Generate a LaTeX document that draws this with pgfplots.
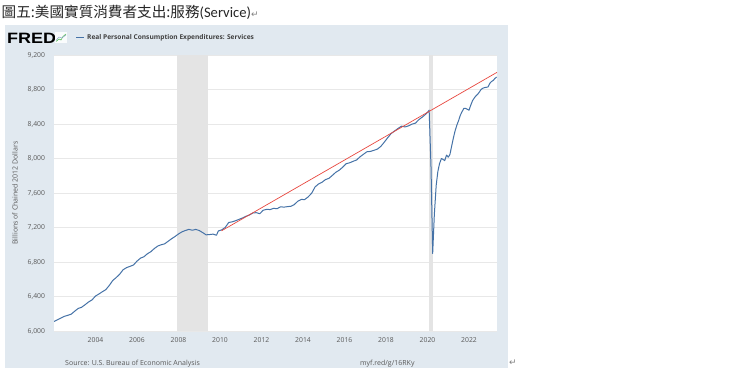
\documentclass[border=0pt]{standalone}
\usepackage{fontspec}
\setmainfont{Open Sans}
\newfontfamily\cjk{Noto Sans CJK TC}
\newfontfamily\carlito{Carlito}
\newfontfamily\dejavu{DejaVu Sans}
\newfontfamily\logofont{Liberation Sans}
\usepackage{pgfplots}
\usepackage{pgfplotstable}
\pgfplotsset{compat=1.18}
\definecolor{fredbg}{HTML}{E1E9F0}
\definecolor{fredblue}{HTML}{4572A7}
\definecolor{gridc}{HTML}{E8E8E8}
\definecolor{shadec}{HTML}{E4E4E4}
\definecolor{ticktext}{HTML}{595959}
\definecolor{redl}{HTML}{E8473F}
\definecolor{titletext}{HTML}{262626}

\pgfplotstableread{
year value
2002.00 6110
2002.17 6130
2002.33 6150
2002.50 6170
2002.67 6182
2002.83 6195
2003.00 6230
2003.17 6262
2003.33 6275
2003.50 6305
2003.67 6337
2003.83 6360
2004.00 6405
2004.17 6430
2004.33 6455
2004.50 6480
2004.67 6530
2004.83 6585
2005.00 6620
2005.17 6660
2005.33 6710
2005.50 6735
2005.67 6750
2005.83 6765
2006.00 6810
2006.17 6845
2006.33 6860
2006.50 6895
2006.67 6920
2006.83 6955
2007.00 6985
2007.17 7000
2007.33 7010
2007.50 7040
2007.67 7070
2007.83 7095
2008.00 7125
2008.17 7150
2008.33 7165
2008.50 7178
2008.67 7168
2008.83 7178
2009.00 7165
2009.17 7140
2009.33 7115
2009.50 7118
2009.67 7123
2009.83 7110
2009.92 7160
2010.08 7172
2010.25 7200
2010.42 7258
2010.58 7265
2010.75 7278
2010.92 7295
2011.08 7310
2011.25 7330
2011.42 7345
2011.58 7368
2011.75 7372
2011.92 7360
2012.08 7400
2012.25 7410
2012.42 7408
2012.58 7422
2012.75 7418
2012.92 7440
2013.08 7436
2013.25 7442
2013.42 7446
2013.58 7465
2013.75 7505
2013.92 7525
2014.08 7524
2014.25 7555
2014.42 7598
2014.58 7670
2014.75 7705
2014.92 7725
2015.08 7755
2015.25 7770
2015.42 7805
2015.58 7840
2015.75 7865
2015.92 7900
2016.08 7940
2016.25 7950
2016.42 7968
2016.58 7982
2016.75 8020
2016.92 8050
2017.08 8078
2017.25 8082
2017.42 8095
2017.58 8108
2017.75 8140
2017.92 8190
2018.08 8240
2018.25 8290
2018.42 8320
2018.58 8348
2018.75 8375
2018.92 8366
2019.08 8378
2019.25 8398
2019.42 8410
2019.58 8450
2019.75 8480
2019.92 8515
2020.00 8535
2020.08 8560
2020.17 7900
2020.25 6898
2020.33 7350
2020.42 7690
2020.50 7850
2020.58 7940
2020.67 8000
2020.75 7990
2020.83 7975
2020.92 8040
2021.00 8015
2021.08 8045
2021.17 8150
2021.25 8240
2021.33 8320
2021.42 8390
2021.50 8440
2021.58 8500
2021.67 8545
2021.75 8580
2021.83 8582
2021.92 8570
2022.00 8560
2022.08 8615
2022.17 8670
2022.25 8700
2022.33 8725
2022.42 8745
2022.50 8770
2022.58 8800
2022.67 8815
2022.75 8822
2022.83 8825
2022.92 8830
2023.00 8870
2023.08 8892
2023.17 8905
2023.25 8928
2023.33 8945
}\pcedata

\begin{document}
\begin{tikzpicture}[x=1pt,y=1pt]
\useasboundingbox (0,0) rectangle (740,371);
% panel background
\fill[fredbg] (5,3) rectangle (508,346);
% title
\node[anchor=west, inner sep=0pt, text=titletext] at (1.5,359)
  {\fontsize{14.6}{16}\selectfont\cjk 圖五:美國實質消費者支出:服務\carlito(Service)\textcolor{gray}{\dejavu\fontsize{9}{10}\selectfont ↵}};
% FRED logo
\node[anchor=west, inner sep=0pt, xscale=1.2, text=black] at (7,333)
  {\fontsize{15}{15}\selectfont\logofont\bfseries FRED};
\fill[white!85!fredbg] (55,328) rectangle (67,339);
\draw[green!45!gray, line width=0.5pt] (56,329.5) -- (59,332) -- (61,331) -- (63,334.5) -- (66,337);
\draw[fredblue!70, line width=0.4pt] (56,330.5) -- (59,334) -- (62,333) -- (66,336);
% legend
\draw[fredblue, line width=1.2pt] (76,333.5) -- (84,333.5);
\node[anchor=west, inner sep=0pt, text=black!75] at (87,333.5)
  {\fontsize{6.6}{8}\selectfont\bfseries Real Personal Consumption Expenditures: Services};
% footer
\node[anchor=west, inner sep=0pt, text=ticktext] at (65,7.5)
  {\fontsize{7}{8}\selectfont Source: U.S. Bureau of Economic Analysis};
\node[anchor=west, inner sep=0pt, text=ticktext] at (360,7.5)
  {\fontsize{7}{8}\selectfont myf.red/g/16RKy};
\node[anchor=west, inner sep=0pt, text=gray] at (509,8.5)
  {\dejavu\fontsize{9}{10}\selectfont ↵};
% y label
\node[rotate=90, inner sep=0pt, text=ticktext] at (15,178)
  {\fontsize{7}{8}\selectfont Billions of Chained 2012 Dollars};
\begin{axis}[
  at={(54pt,40pt)}, anchor=south west,
  scale only axis, width=443pt, height=276pt,
  xmin=2002, xmax=2023.35, ymin=6000, ymax=9200,
  axis line style={draw=none},
  major tick length=0pt,
  axis background/.style={fill=white},
  ytick={6000,6400,...,9200},
  ymajorgrids, grid style={color=gridc, line width=0.7pt},
  xtick={2004,2006,...,2022},
  xticklabels={2004,2006,2008,2010,2012,2014,2016,2018,2020,2022},
  /pgf/number format/assume math mode=true,
  /pgf/number format/1000 sep={,},
  tick label style={font=\fontsize{6.8}{8}\selectfont, text=ticktext},
  xticklabel style={yshift=-3.5pt},
  yticklabel style={xshift=-5.5pt},
  clip=true,
]
\addplot[fill=shadec, draw=none] coordinates {(2007.92,6000) (2009.42,6000) (2009.42,9200) (2007.92,9200)} -- cycle;
\addplot[fill=shadec, draw=none] coordinates {(2020.08,6000) (2020.25,6000) (2020.25,9200) (2020.08,9200)} -- cycle;
\addplot[fredblue, line width=1.0pt, line join=round] table[x=year,y=value] {\pcedata};
\addplot[redl, line width=0.7pt] coordinates {(2010.07,7161) (2023.35,8999)};
\end{axis}
\end{tikzpicture}
\end{document}
